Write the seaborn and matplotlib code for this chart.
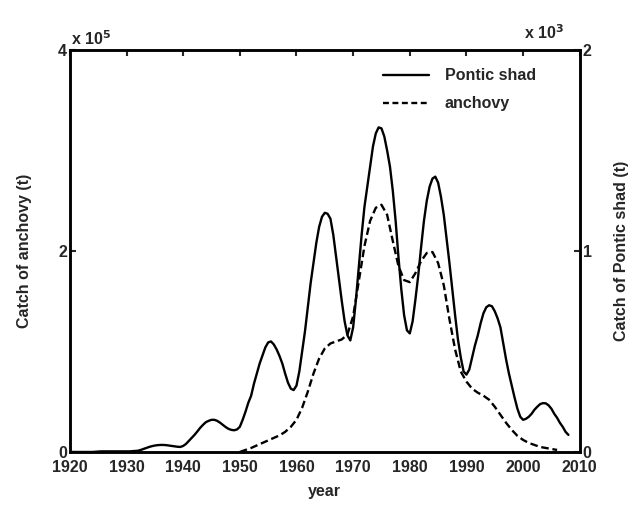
import matplotlib
matplotlib.use("Agg")
import matplotlib.pyplot as plt
import seaborn as sns
import numpy as np
import pandas as pd
from matplotlib.lines import Line2D

# catch data (tonnes), Pontic shad every half year
shad_years = np.arange(1920, 2008.5, 0.5)
shad_catch = [0, 0, 0, 0, 0, 0, 0, 0, 0, 1,
              2, 3, 3, 3, 3, 3, 3, 3, 3, 3,
              3, 3, 4, 5, 6, 10,
              15, 20, 25, 29, 32, 34, 35, 35, 34, 32,
              30, 28, 26, 25, 30, 40, 55, 70, 85, 102,
              120, 135, 148, 155, 160, 160, 155, 146, 135, 124,
              115, 110, 108, 112,
              125, 160, 200, 245, 280, 340, 390, 440, 480, 520,
              545, 550, 535, 510, 478, 440, 390, 345, 315, 308,
              330, 400, 500, 600, 720, 840, 940, 1040, 1120, 1170,
              1190, 1185, 1160, 1080, 970, 860, 750, 650, 580, 555,
              620, 760, 920, 1080, 1220, 1320, 1420, 1520, 1585, 1615,
              1610, 1570, 1500, 1420, 1300, 1150, 970, 810, 680, 605,
              590, 650, 760, 880, 1020, 1150, 1250, 1320, 1360, 1370,
              1340, 1270, 1180, 1060, 940, 810, 680, 560, 470, 400,
              385, 410, 470, 530, 580, 640, 690, 720, 730, 725,
              700, 665, 620, 540, 460, 390, 330, 270, 215, 175,
              160, 165, 175, 190, 210, 225, 238, 243, 242, 232,
              215, 190, 170, 145, 125, 100, 85]

# anchovy, yearly, in units of 1e5 t
anchovy_years = list(range(1950, 2007))
anchovy_catch = [0.0, 0.02, 0.04, 0.065, 0.09, 0.115, 0.14, 0.165, 0.2, 0.25,
                 0.32, 0.44, 0.6, 0.78, 0.93, 1.03, 1.08, 1.1, 1.12, 1.17,
                 1.35, 1.7, 2.05, 2.3, 2.43, 2.46, 2.36, 2.1, 1.85, 1.71,
                 1.69, 1.78, 1.9, 1.98, 1.99, 1.88, 1.66, 1.32, 1.02, 0.8,
                 0.7, 0.63, 0.59, 0.56, 0.52, 0.45, 0.37, 0.29, 0.22, 0.16,
                 0.12, 0.09, 0.07, 0.05, 0.04, 0.03, 0.02]
anchovy_catch = [v * 1e5 for v in anchovy_catch]

year_ticks = list(range(1920, 2011, 10))

sns.set_style("white")
plt.rcParams['font.family'] = ['Liberation Sans', 'DejaVu Sans']
plt.rcParams['font.weight'] = 'bold'
plt.rcParams['axes.labelweight'] = 'bold'

df_shad = pd.DataFrame({'year': shad_years, 'catch': shad_catch})
df_anch = pd.DataFrame({'year': anchovy_years, 'catch': anchovy_catch})

fig = plt.figure(figsize=(6.35, 5.05), dpi=100)
ax = fig.add_axes([0.110, 0.105, 0.803, 0.796])
ax2 = ax.twinx()

sns.lineplot(data=df_anch, x='year', y='catch', ax=ax, color='black',
             linewidth=1.7, linestyle=(0, (3.2, 1.6)))
sns.lineplot(data=df_shad, x='year', y='catch', ax=ax2, color='black',
             linewidth=1.7)

ax.set_xlim(1920, 2010)
ax.set_ylim(0, 4e5)
ax2.set_ylim(0, 2e3)
ax.set_xticks(year_ticks)
ax.set_yticks([0, 2e5, 4e5])
ax.set_yticklabels(['0', '2', '4'])
ax2.set_yticks([0, 1e3, 2e3])
ax2.set_yticklabels(['0', '1', '2'])

fs = 11.5
for a in (ax, ax2):
    for s in a.spines.values():
        s.set_linewidth(1.8)
        s.set_color('black')
    a.tick_params(direction='in', length=4, width=1.5, labelsize=fs, pad=2)
ax.tick_params(axis='x', top=True, pad=6)
ax.tick_params(axis='y', left=True, right=False)
ax2.tick_params(axis='y', right=True)
for lbl in ax.get_xticklabels() + ax.get_yticklabels() + ax2.get_yticklabels():
    lbl.set_fontweight('bold')

ax.set_xlabel('year', fontsize=fs, labelpad=6)
ax.set_ylabel('Catch of anchovy (t)', fontsize=fs, labelpad=19)
ax2.set_ylabel('Catch of Pontic shad (t)', fontsize=fs, labelpad=16)

ax.text(0.003, 1.005, r'x 10$^5$', transform=ax.transAxes, fontsize=fs,
        fontweight='bold', ha='left', va='bottom')
ax2.text(0.93, 1.02, r'x 10$^3$', transform=ax2.transAxes, fontsize=fs,
         fontweight='bold', ha='center', va='bottom')

handles = [Line2D([], [], color='black', linewidth=1.7),
           Line2D([], [], color='black', linewidth=1.7, linestyle=(0, (2.5, 1.5)))]
ax2.legend(handles, ['Pontic shad', 'anchovy'], loc='upper left',
           bbox_to_anchor=(0.585, 0.99), frameon=False, fontsize=fs,
           handlelength=2.9, labelspacing=0.8, handletextpad=1.0)

fig.savefig('out.png', dpi=100)
